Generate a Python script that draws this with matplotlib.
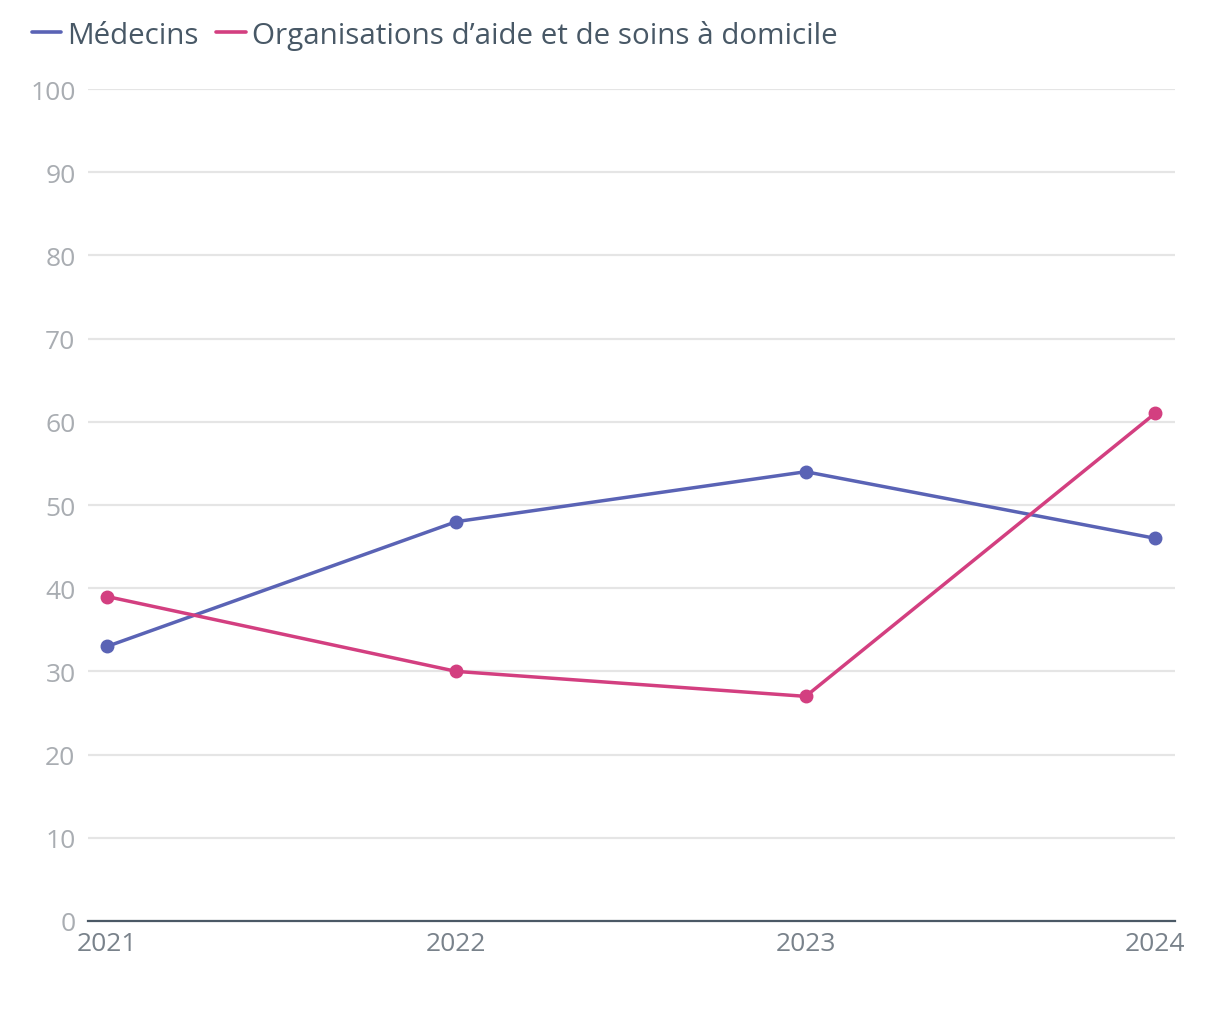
import matplotlib
matplotlib.use("Agg")
import matplotlib.pyplot as plt

years = [2021, 2022, 2023, 2024]
medecins = [33, 48, 54, 46]
organisations = [39, 30, 27, 61]
series_names = ["Médecins", "Organisations d\u2019aide et de soins à domicile"]
colors = ["#5a63b5", "#d33f80"]
yticks = [0, 10, 20, 30, 40, 50, 60, 70, 80, 90, 100]

plt.rcParams['font.family'] = ['Open Sans', 'DejaVu Sans']

fig = plt.figure(figsize=(12.2, 10.2), dpi=100)
ax = fig.add_axes([88/1220, 1-922/1020, (1175-88)/1220, (922-90)/1020])

for vals, col, name in zip([medecins, organisations], colors, series_names):
    ax.plot(years, vals, color=col, lw=2.5, marker='o', markersize=9,
            label=name, solid_capstyle='round', zorder=3)

ax.set_ylim(0, 100)
ax.set_xlim(2021 - 19/349.33, 2024 + 20/349.33)
ax.set_yticks(yticks)
ax.set_xticks(years)
ax.set_xticklabels([str(y) for y in years])
ax.grid(axis='y', color='#e5e5e5', lw=1.6, zorder=0)
ax.grid(axis='x', visible=False)
for s in ['top', 'right', 'left']:
    ax.spines[s].set_visible(False)
ax.spines['bottom'].set_color('#4b5966')
ax.spines['bottom'].set_linewidth(1.6)
ax.spines['bottom'].set_zorder(4)
ax.tick_params(axis='y', length=0, pad=9, labelsize=19, labelcolor='#a9adb2')
ax.tick_params(axis='x', length=0, pad=7, labelsize=19, labelcolor='#79828b')

leg = fig.legend(loc='upper left', bbox_to_anchor=(0.004, 1.006), ncol=2, frameon=False,
                 fontsize=21.3, handlelength=1.0, handletextpad=0.2, columnspacing=0.6,
                 labelcolor='#485866')
for h in leg.legend_handles:
    h.set_marker('')
    h.set_linewidth(2.6)

fig.savefig('out.png', dpi=100)
